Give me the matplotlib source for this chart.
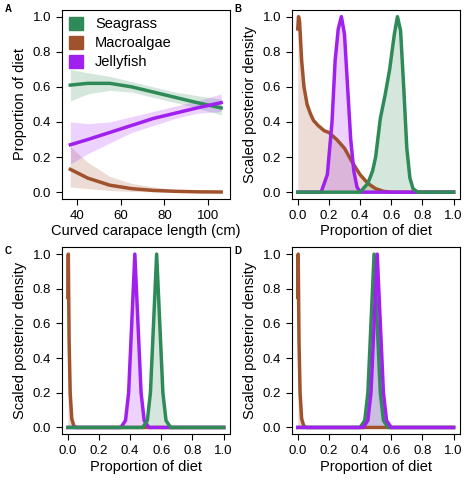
import numpy as np
import matplotlib
matplotlib.use("Agg")
import matplotlib.pyplot as plt

G, B, P = "#2e8b57", "#a0522d", "#a020f0"
names = ["Seagrass", "Macroalgae", "Jellyfish"]

# Panel A: proportion vs CCL
ccl = [37, 45, 55, 65, 75, 85, 95, 106]
sg_mean = [0.61, 0.62, 0.62, 0.60, 0.57, 0.54, 0.51, 0.48]
sg_lo = [0.52, 0.56, 0.58, 0.57, 0.54, 0.51, 0.48, 0.44]
sg_hi = [0.70, 0.68, 0.66, 0.63, 0.60, 0.57, 0.55, 0.53]
ma_mean = [0.13, 0.08, 0.04, 0.02, 0.01, 0.005, 0.002, 0.001]
ma_lo = [0.03, 0.02, 0.01, 0.004, 0.002, 0.001, 0.0, 0.0]
ma_hi = [0.26, 0.17, 0.09, 0.05, 0.03, 0.015, 0.008, 0.005]
jf_mean = [0.27, 0.30, 0.34, 0.38, 0.42, 0.45, 0.48, 0.51]
jf_lo = [0.16, 0.22, 0.28, 0.34, 0.38, 0.42, 0.45, 0.46]
jf_hi = [0.40, 0.39, 0.40, 0.43, 0.46, 0.49, 0.52, 0.56]

# Panel B densities
bx_ma = [0, 0.005, 0.012, 0.025, 0.04, 0.06, 0.08, 0.1, 0.13, 0.17, 0.2, 0.25, 0.3, 0.35, 0.4, 0.45, 0.5, 0.55, 0.6]
by_ma = [0.93, 1.0, 0.97, 0.75, 0.6, 0.5, 0.45, 0.41, 0.38, 0.35, 0.34, 0.30, 0.25, 0.17, 0.10, 0.05, 0.02, 0.005, 0]
bx_jf = [0.15, 0.19, 0.21, 0.22, 0.24, 0.26, 0.28, 0.30, 0.32, 0.34, 0.36, 0.38, 0.40]
by_jf = [0, 0.1, 0.3, 0.4, 0.75, 0.93, 1.0, 0.9, 0.6, 0.3, 0.12, 0.03, 0]
bx_sg = [0.40, 0.45, 0.48, 0.50, 0.53, 0.56, 0.59, 0.62, 0.64, 0.66, 0.68, 0.70, 0.72, 0.74, 0.77]
by_sg = [0, 0.05, 0.12, 0.2, 0.42, 0.55, 0.7, 0.9, 1.0, 0.92, 0.6, 0.25, 0.08, 0.02, 0]

# Panel C densities
cx_ma = [0, 0.003, 0.008, 0.015, 0.025, 0.04, 0.06]
cy_ma = [0.75, 1.0, 0.5, 0.2, 0.05, 0.005, 0]
cx_jf = [0.34, 0.37, 0.39, 0.41, 0.43, 0.45, 0.47, 0.49, 0.52]
cy_jf = [0, 0.04, 0.2, 0.6, 1.0, 0.6, 0.2, 0.04, 0]
cx_sg = [0.48, 0.51, 0.53, 0.55, 0.57, 0.59, 0.61, 0.63, 0.66]
cy_sg = [0, 0.04, 0.2, 0.6, 1.0, 0.6, 0.2, 0.04, 0]

# Panel D densities
dx_ma = [0, 0.003, 0.008, 0.015, 0.025, 0.04, 0.06]
dy_ma = [0.75, 1.0, 0.5, 0.2, 0.05, 0.005, 0]
dx_sg = [0.40, 0.43, 0.45, 0.47, 0.49, 0.51, 0.53, 0.55, 0.58]
dy_sg = [0, 0.04, 0.2, 0.6, 1.0, 0.6, 0.2, 0.04, 0]
dx_jf = [0.42, 0.45, 0.47, 0.49, 0.51, 0.53, 0.55, 0.57, 0.60]
dy_jf = [0, 0.04, 0.2, 0.6, 1.0, 0.6, 0.2, 0.04, 0]

plt.rcParams['font.family'] = ['Liberation Sans', 'DejaVu Sans']
fig = plt.figure(figsize=(4.74, 4.80), dpi=100)
rects = [(0.13, 0.585, 0.355, 0.395), (0.615, 0.585, 0.355, 0.395),
         (0.13, 0.095, 0.355, 0.39), (0.615, 0.095, 0.355, 0.39)]
axs = [fig.add_axes(r) for r in rects]
letter_pos = [(0.01, 0.975), (0.495, 0.975), (0.01, 0.47), (0.495, 0.47)]
for ax, L, (lx, ly) in zip(axs, "ABCD", letter_pos):
    ax.tick_params(direction='out', labelsize=9.5, length=4)
    ax.set_ylim(-0.04, 1.04)
    ax.set_yticks([0, 0.2, 0.4, 0.6, 0.8, 1.0])
    ax.set_yticklabels(["0.0", "0.2", "0.4", "0.6", "0.8", "1.0"])
    fig.text(lx, ly, L, fontsize=7, fontweight='bold')

ax = axs[0]
for m, lo, hi, c, n in [(sg_mean, sg_lo, sg_hi, G, names[0]), (ma_mean, ma_lo, ma_hi, B, names[1]),
                        (jf_mean, jf_lo, jf_hi, P, names[2])]:
    ax.fill_between(ccl, lo, hi, color=c, alpha=0.2, lw=0)
    ax.plot(ccl, m, color=c, lw=2.5)
    ax.fill_between([], [], [], color=c, label=n)
ax.set_xlim(33, 110)
ax.set_xticks([40, 60, 80, 100])
ax.set_xlabel("Curved carapace length (cm)", fontsize=10.5, labelpad=2)
ax.set_ylabel("Proportion of diet", fontsize=10.5)
ax.legend(loc='upper left', frameon=False, fontsize=10.5, handlelength=1.0, handleheight=1.0,
          borderaxespad=0.1, labelspacing=0.3)

for ax, curves in [(axs[1], [(bx_ma, by_ma, B), (bx_jf, by_jf, P), (bx_sg, by_sg, G)]),
                   (axs[2], [(cx_ma, cy_ma, B), (cx_jf, cy_jf, P), (cx_sg, cy_sg, G)]),
                   (axs[3], [(dx_ma, dy_ma, B), (dx_sg, dy_sg, G), (dx_jf, dy_jf, P)])]:
    for x, y, c in curves:
        ax.fill_between(x, 0, y, color=c, alpha=0.2, lw=0)
        ax.plot(np.concatenate([[0], x, [1.0]]) if x[0] > 0 else np.concatenate([x, [1.0]]),
                np.concatenate([[0], y, [0]]) if x[0] > 0 else np.concatenate([y, [0]]),
                color=c, lw=2.5)
    ax.set_xlim(-0.04, 1.04)
    ax.set_xticks([0, 0.2, 0.4, 0.6, 0.8, 1.0])
    ax.set_xticklabels(["0.0", "0.2", "0.4", "0.6", "0.8", "1.0"])
    ax.set_xlabel("Proportion of diet", fontsize=10.5, labelpad=2)
    ax.set_ylabel("Scaled posterior density", fontsize=10.5)

fig.savefig("out.png", dpi=100)
